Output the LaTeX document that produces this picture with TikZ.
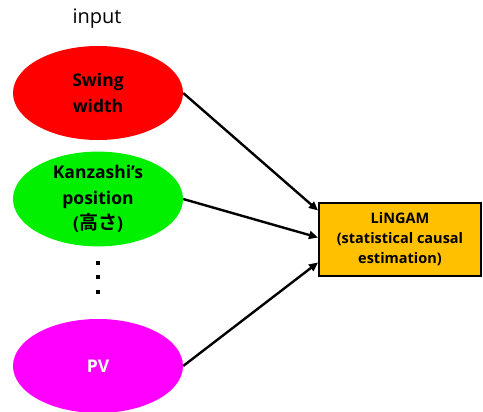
\documentclass[tikz,border=0pt]{standalone}
\usepackage{fontspec}
\setmainfont{Open Sans}
\newfontfamily\jpfont{Noto Sans CJK JP}[BoldFont={* Bold}]
\usetikzlibrary{arrows.meta,calc,shapes.geometric}
\begin{document}
\begin{tikzpicture}[x=1pt,y=-1pt,
  inp/.style={ellipse,minimum width=170pt,minimum height=94pt,inner sep=0pt,align=center,
    font=\fontsize{17.5}{25.5}\selectfont\bfseries},
  conn/.style={line width=2.4pt,-{Triangle[length=9pt,width=8pt]}},
  dotsq/.style={fill=black,minimum size=4pt,inner sep=0pt}]
\useasboundingbox (0,0) rectangle (483,412);
\node[font=\fontsize{20}{24}\selectfont] (title) at (97,19) {input};
\node[inp,fill={rgb,255:red,255;green,0;blue,0}] (sw) at (98,93) {Swing\\width};
\node[inp,fill={rgb,255:red,0;green,240;blue,0}] (kz) at (98,199) {Kanzashi’s\\position\\({\jpfont\bfseries\fontsize{19}{25.5}\selectfont 高さ})};
\node[inp,fill={rgb,255:red,255;green,0;blue,255},text=white] (pv) at (98,366) {PV};
\node[dotsq] (d1) at (98,263) {};
\node[dotsq] (d2) at (98,277) {};
\node[dotsq] (d3) at (98,292) {};
\node[draw=black,line width=2pt,fill={rgb,255:red,255;green,192;blue,0},
  minimum width=162pt,minimum height=73pt,inner sep=0pt,align=center,
  font=\fontsize{14.5}{20}\selectfont\bfseries] (lg) at (400,239.5) {LiNGAM\\(statistical causal\\estimation)};
\coordinate (t1) at ($(lg.west)+(0,-29)$);
\coordinate (t2) at ($(lg.west)+(0,-2)$);
\coordinate (t3) at ($(lg.west)+(0,23)$);
\draw[conn] (sw.east) -- (t1);
\draw[conn] (kz.east) -- (t2);
\draw[conn] (pv.east) -- (t3);
\end{tikzpicture}
\end{document}
